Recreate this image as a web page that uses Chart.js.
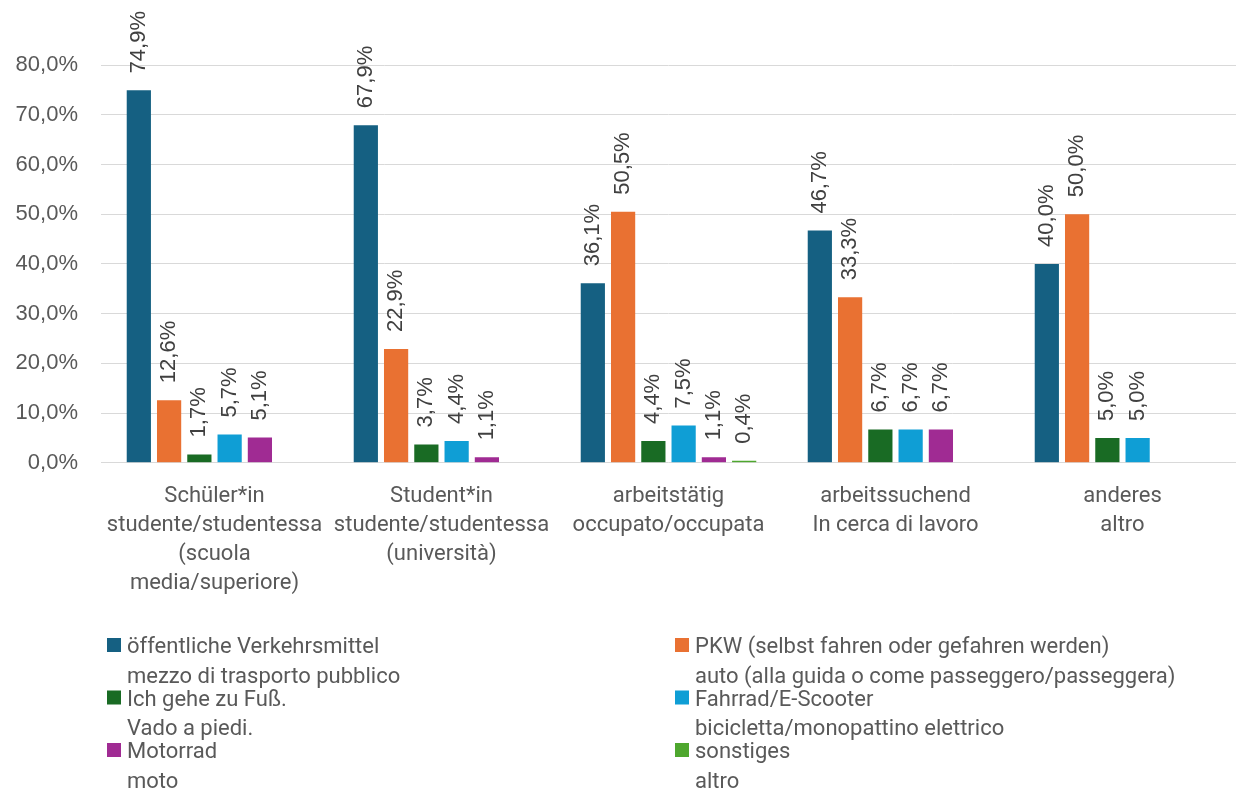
<!DOCTYPE html>
<html>
<head>
<meta charset="utf-8">
<title>Verkehrsmittel nach Tätigkeit</title>
<script src="https://cdn.jsdelivr.net/npm/chart.js@4.4.1/dist/chart.umd.min.js"></script>
<style>
  html, body { margin: 0; padding: 0; background: #fff; }
  #wrap { width: 1236px; height: 805px; }
</style>
</head>
<body>
<div id="wrap"><canvas id="modeChart" width="1236" height="805"></canvas></div>
<script>
// categories (two-language, multi-line)
const categories = [
  ["Schüler*in", "studente/studentessa", "(scuola", "media/superiore)"],
  ["Student*in", "studente/studentessa", "(università)"],
  ["arbeitstätig", "occupato/occupata"],
  ["arbeitssuchend", "In cerca di lavoro"],
  ["anderes", "altro"]
];

// series names: [German, Italian]
const seriesNames = [
  ["öffentliche Verkehrsmittel", "mezzo di trasporto pubblico"],
  ["PKW (selbst fahren oder gefahren werden)", "auto (alla guida o come passeggero/passeggera)"],
  ["Ich gehe zu Fuß.", "Vado a piedi."],
  ["Fahrrad/E-Scooter", "bicicletta/monopattino elettrico"],
  ["Motorrad", "moto"],
  ["sonstiges", "altro"]
];

// shares in percent, one array per series
const oeffentlich = [74.9, 67.9, 36.1, 46.7, 40.0];
const pkw         = [12.6, 22.9, 50.5, 33.3, 50.0];
const zuFuss      = [1.7, 3.7, 4.4, 6.7, 5.0];
const fahrrad     = [5.7, 4.4, 7.5, 6.7, 5.0];
const motorrad    = [5.1, 1.1, 1.1, 6.7, null];
const sonstiges   = [null, null, 0.4, null, null];

const seriesValues = [oeffentlich, pkw, zuFuss, fahrrad, motorrad, sonstiges];
const seriesColors = ["#156082", "#E97132", "#196B24", "#0F9ED5", "#A02B93", "#4EA72E"];

const yTicks = { min: 0, max: 80, step: 10 };

const fmtPct = v => v.toFixed(1).replace(".", ",") + "%";

// value labels, rotated, above each bar
const barLabels = {
  id: "barLabels",
  afterDatasetsDraw(chart) {
    const ctx = chart.ctx;
    ctx.save();
    ctx.font = "22px 'Liberation Sans', Arial, sans-serif";
    ctx.fillStyle = "#404040";
    ctx.textAlign = "left";
    ctx.textBaseline = "middle";
    chart.data.datasets.forEach((ds, i) => {
      const meta = chart.getDatasetMeta(i);
      meta.data.forEach((bar, j) => {
        const v = ds.data[j];
        if (v === null || v === undefined) return;
        ctx.save();
        ctx.translate(bar.x, bar.y - 17);
        ctx.rotate(-Math.PI / 2);
        ctx.fillText(fmtPct(v), 0, 0);
        ctx.restore();
      });
    });
    ctx.restore();
  }
};

// two-column legend with a second (Italian) line per entry
const twoLineLegend = {
  id: "twoLineLegend",
  afterDraw(chart) {
    const ctx = chart.ctx;
    const cols = [107, 675];
    const top = 653, rowGap = 52.5, lineGap = 29.5;
    ctx.save();
    ctx.font = "22px Roboto, sans-serif";
    ctx.textBaseline = "alphabetic";
    ctx.textAlign = "left";
    chart.data.datasets.forEach((ds, i) => {
      const x = cols[i % 2];
      const y = top + Math.floor(i / 2) * rowGap;
      ctx.fillStyle = ds.backgroundColor;
      ctx.fillRect(x, y - 15, 14, 14);
      ctx.fillStyle = "#595959";
      ctx.fillText(ds.names[0], x + 20, y);
      ctx.fillText(ds.names[1], x + 20, y + lineGap);
    });
    ctx.restore();
  }
};

new Chart(document.getElementById("modeChart"), {
  type: "bar",
  data: {
    labels: categories,
    datasets: seriesValues.map((vals, i) => ({
      label: seriesNames[i].join(" / "),
      names: seriesNames[i],
      data: vals,
      backgroundColor: seriesColors[i],
      categoryPercentage: 0.8,
      barPercentage: 0.8
    }))
  },
  options: {
    responsive: false,
    animation: false,
    layout: { padding: { top: 65, right: 0, bottom: 196, left: 0 } },
    plugins: {
      legend: { display: false },
      tooltip: { enabled: false }
    },
    scales: {
      x: {
        grid: { display: false },
        border: { display: false },
        ticks: {
          color: "#595959",
          font: { family: "Roboto, sans-serif", size: 22, lineHeight: 1.32 },
          padding: 11,
          maxRotation: 0,
          autoSkip: false
        }
      },
      y: {
        min: yTicks.min,
        max: yTicks.max,
        border: { display: false },
        grid: { color: "#d9d9d9", lineWidth: 1, drawTicks: false },
        ticks: {
          stepSize: yTicks.step,
          color: "#595959",
          font: { family: "'Liberation Sans', Arial, sans-serif", size: 22 },
          padding: 23,
          callback: v => fmtPct(v)
        },
        afterFit(scale) { scale.width = 101; }
      }
    }
  },
  plugins: [barLabels, twoLineLegend]
});
</script>
</body>
</html>
